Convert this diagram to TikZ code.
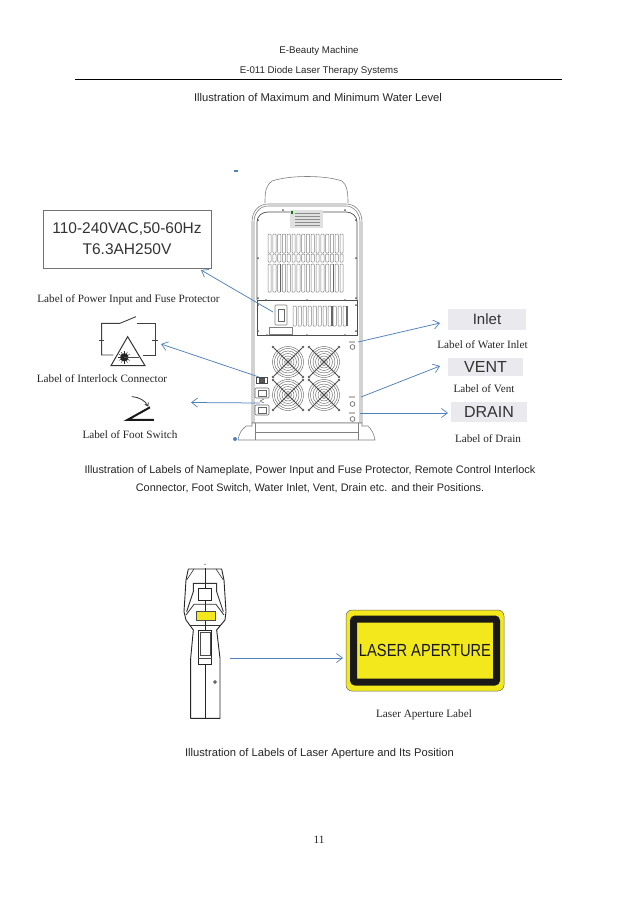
\documentclass[tikz,border=0pt]{standalone}
\usepackage{graphicx}
\usepackage{fontspec}
\setmainfont{Liberation Serif}
\newfontfamily\arialf{Liberation Sans}
\usetikzlibrary{arrows.meta}
\definecolor{arrowblue}{HTML}{4F81BD}
\definecolor{panelgrey}{HTML}{808080}
\definecolor{labelbg}{HTML}{E9E9EE}
\definecolor{signyellow}{HTML}{F2E81C}
\tikzset{
  headtxt/.style={font=\arialf\fontsize{9.7}{11}\selectfont,text=black!85,inner sep=0pt,anchor=center},
  bodytxt/.style={font=\arialf\fontsize{11.2}{17}\selectfont,text=black!85,inner sep=0pt,anchor=center,align=center},
  captxt/.style={font=\arialf\fontsize{10.9}{17.5}\selectfont,text=black!85,inner sep=0pt,anchor=center,align=center},
  lbltxt/.style={font=\fontsize{11.2}{13}\selectfont,text=black!85,inner sep=0pt,anchor=center},
  callout/.style={draw=arrowblue,line width=0.75pt,-{Straight Barb[length=6pt,width=9pt,line width=0.7pt]}},
  mach/.style={draw=panelgrey,line width=0.6pt},
  slot/.style={draw=panelgrey,line width=0.5pt,rounded corners=0.8pt,fill=white},
  boltdot/.style={fill=black!65,draw=none},
  fanwire/.style={draw=black!60,line width=0.45pt},
  iconline/.style={draw=black!75,line width=0.9pt},
}
\newcommand{\fanunit}[2]{%
  \foreach \r in {3.5,6,8.5,11,13.5,15.5}{\draw[fanwire] (#1,#2) circle[radius=\r pt];}
  \draw[fanwire,fill=white] (#1,#2) circle[radius=2.2pt];
  \draw[draw=black!70,line width=1pt] (#1-14,#2-14) -- (#1+14,#2+14) (#1-14,#2+14) -- (#1+14,#2-14);
  \foreach \a/\b in {-15/-15,15/-15,-15/15,15/15}{\fill[boltdot] (#1+\a,#2+\b) circle[radius=1.3pt];}
}
\begin{document}
\begin{tikzpicture}[x=1pt,y=-1pt]
\useasboundingbox[fill=white] (0,0) rectangle (638,903);

% header
\node[headtxt] (h1) at (319,51) {E-Beauty Machine};
\node[headtxt] (h2) at (319,71) {E-011 Diode Laser Therapy Systems};
\draw[black,line width=0.7pt] (75,79) -- (562,79);
\node[bodytxt] (t1) at (318,97) {Illustration of Maximum and Minimum Water Level};

% machine
\fill[arrowblue] (234,170) rectangle (238,172);
\fill[arrowblue] (235,439) circle[radius=2pt];
\draw[mach,fill=white] (265,203) .. controls (265,190) and (266,186) .. (272,181) .. controls (290,175) and (325,175) .. (342,181) .. controls (347,185) and (348,192) .. (348,203);
\draw[mach,fill=white] (252,423) -- (252,222) .. controls (252,212) and (258,204) .. (268,204) -- (346,204) .. controls (356,204) and (362,212) .. (362,222) -- (362,423) -- cycle;
\draw[mach] (254,423) -- (254,222) .. controls (254,214) and (259,206) .. (268,206) -- (346,206) .. controls (354,206) and (360,214) .. (360,222) -- (360,423);
\draw[draw=black!70,line width=0.7pt] (257,300) -- (257,222) .. controls (257,216) and (262,212) .. (268,212) -- (346,212) .. controls (352,212) and (357,216) .. (357,222) -- (357,300);
\draw[draw=black!70,line width=0.7pt] (257,300) -- (357,300);
\draw[draw=black!70,line width=0.7pt] (257,300) rectangle (357,335);
% nameplate
\fill[black!12] (290,210) rectangle (323,228);
\fill[green!50!black] (291,211) rectangle (293,214);
\foreach \y in {213,216,219,222,225}{\draw[black!45,line width=0.3pt] (295,\y) -- (320,\y);}
% upper slots
\foreach \i in {0,...,15}{
  \draw[slot] ({268+\i*4.8},234) rectangle ++(3.2,19);
  \draw[slot] ({268+\i*4.8},254) rectangle ++(3.2,8);
  \draw[slot] ({268+\i*4.8},264) rectangle ++(3.2,28);
}
\fill[black!60] (279.5,264) rectangle (280.8,292);
\fill[black!60] (332.5,264) rectangle (333.8,292);
% panel bolts
\foreach \p in {(258,220),(258,258),(258,298),(356,220),(356,258),(356,298),(283,210),(345,210),(266,300),(307,300),(345,300),(258,305),(258,331),(356,305),(356,331),(267,335),(307,335),(345,335)}{\fill[boltdot] \p circle[radius=1pt];}
% lower panel
\draw[slot,line width=0.6pt] (275,305) rectangle (287,325);
\draw[black!60,line width=0.5pt] (278,309) rectangle (284,321);
\draw[panelgrey,line width=0.4pt] (269,327) rectangle (292,334);
\foreach \i in {0,...,10}{\draw[slot] ({293+\i*5},306) rectangle ++(3.4,20);}
\fill[black!60] (331,306) rectangle (333,326);
\fill[black!60] (346,306) rectangle (348,326);
% fans
\fanunit{288}{362}
\fanunit{324}{362}
\fanunit{288}{395}
\fanunit{324}{395}
% sockets
\draw[draw=black!70,line width=0.6pt] (256,377) rectangle (267,383);
\draw[draw=black!70,line width=0.5pt,fill=black!65] (259,378) rectangle (264,382);
\foreach \y in {388,405}{
  \draw[draw=black!60,line width=0.6pt,rounded corners=1pt] (255,\y) rectangle (269,\y+10);
  \draw[draw=black!60,line width=0.5pt] (258,\y+2) rectangle (266,\y+8);
}
\draw[draw=black!60,line width=0.5pt] (260,401) -- (264,399) (260,401) -- (264,403);
% ports
\foreach \y/\q in {342/346,397/403,413/418}{
  \fill[black!25] (349,\y-1) rectangle (355,\y+1);
  \draw[draw=black!65,line width=0.6pt] (352.5,\q+1) circle[radius=2.4pt];
}
% base
\draw[mach,fill=white] (252,423) -- (362,423) -- (362,426) -- (368,426) .. controls (372,430) and (374,434) .. (375,440) -- (238,440) .. controls (239,434) and (241,430) .. (246,426) -- (252,426) -- cycle;
\draw[mach] (255,423) -- (255,440) (358,423) -- (358,440) (255,432) -- (358,432);

% power label
\node[draw=black!55,line width=0.7pt,fill=white,minimum width=168pt,minimum height=58pt,inner sep=0pt,align=center,text=black!80,font=\arialf\fontsize{15.5}{21}\selectfont] (powerbox) at (127,239) {110-240VAC,50-60Hz\\T6.3AH250V};
\node[lbltxt] (l1) at (128.5,300) {Label of Power Input and Fuse Protector};

% interlock icon
\begin{scope}[shift={(30,200)},x=0.3333pt,y=-0.3333pt]
  \draw[iconline] (250,465) -- (215,465) -- (215,370) -- (270,370) -- (318,350);
  \draw[iconline] (320,370) -- (375,370) -- (375,465) -- (338,465);
  \draw[iconline] (207,420) -- (223,420) (367,420) -- (383,420);
  \draw[draw=black!80,line width=1pt,line join=miter] (293,410) -- (243,497) -- (345,497) -- cycle;
  \fill[black!85] (283,472) circle[radius=4.2pt];
  \foreach \a in {0,30,...,330}{\draw[black!85,line width=0.4pt] (283,472) -- ++(\a:6.2pt);}
  \draw[black!70,line width=0.5pt] (283,472) -- (328,472);
\end{scope}
\node[lbltxt] (l2) at (102,378.5) {Label of Interlock Connector};

% foot switch icon
\begin{scope}[shift={(30,200)},x=0.3333pt,y=-0.3333pt]
  \draw[black!90,line width=2pt] (372,660) -- (292,660) -- (360,622);
  \draw[black!80,line width=0.8pt,-{Straight Barb[length=3pt,width=4pt]}] (305,590) .. controls (330,592) and (345,602) .. (355,620);
\end{scope}
\node[lbltxt] (l3) at (130,435) {Label of Foot Switch};

% right labels
\node[fill=labelbg,minimum width=78pt,minimum height=21pt,inner sep=0pt,text=black!80,font=\arialf\fontsize{15}{16}\selectfont] (inletbox) at (487,319.5) {Inlet};
\node[lbltxt] (l4) at (482.5,344.5) {Label of Water Inlet};
\node[fill=labelbg,minimum width=75pt,minimum height=18pt,inner sep=0pt,text=black!80,font=\arialf\fontsize{16}{16}\selectfont] (ventbox) at (485.5,367) {VENT};
\node[lbltxt] (l5) at (484,389) {Label of Vent};
\node[fill=labelbg,minimum width=76pt,minimum height=20pt,inner sep=0pt,text=black!80,font=\arialf\fontsize{16}{16}\selectfont] (drainbox) at (489,412) {DRAIN};
\node[lbltxt] (l6) at (488,438.5) {Label of Drain};

% callouts
\coordinate (sPower) at (273,312); \coordinate (tPower) at (201,270);
\coordinate (sInter) at (259,377); \coordinate (tInter) at (161,344);
\coordinate (sFoot) at (260,403);  \coordinate (tFoot) at (191,402.5);
\coordinate (sInlet) at (358,342); \coordinate (tInlet) at (440,323);
\coordinate (sVent) at (361,397);  \coordinate (tVent) at (440,366);
\coordinate (sDrain) at (360,413); \coordinate (tDrain) at (448,413);
\coordinate (sLaser) at (230,658); \coordinate (tLaser) at (343,658);
\foreach \n in {Power,Inter,Foot,Inlet,Vent,Drain,Laser}{\draw[callout] (s\n) -- (t\n);}

% caption
\node[captxt] (t2) at (310,479) {Illustration of Labels of Nameplate, Power Input and Fuse Protector, Remote Control Interlock\\Connector, Foot Switch, Water Inlet, Vent, Drain etc. and their Positions.};

% handpiece
\begin{scope}[shift={(170,555)},x=0.3333pt,y=-0.3333pt]
  \fill[black!60] (105,28) circle[radius=0.7pt];
  \draw[black!85,line width=0.9pt,fill=white,line join=round] (55,42) -- (155,42) -- (162,75) -- (168,170) -- (165,195) -- (140,225) -- (150,310) -- (150,490) -- (62,490) -- (62,310) -- (70,225) -- (48,195) -- (42,170) -- (48,75) -- cycle;
  \draw[black!85,line width=0.6pt] (105,40) -- (105,490);
  \draw[black!80,line width=0.6pt] (50,75) -- (72,42) (160,75) -- (138,42);
  \draw[black!80,line width=0.9pt] (50,170) -- (70,110) -- (70,85) -- (140,85) -- (140,110) -- (160,170);
  \draw[black!85,line width=0.8pt,fill=white] (85,100) rectangle (125,135);
  \draw[black!80,line width=0.8pt] (48,180) -- (72,148) -- (138,148) -- (162,180);
  \draw[black!80,line width=0.8pt] (60,210) -- (150,210);
  \draw[black!70,line width=0.6pt,fill=signyellow] (78,170) rectangle (135,195);
  \draw[black!85,line width=1pt,fill=white] (85,225) rectangle (125,330);
  \draw[black!70,line width=0.6pt] (90,232) rectangle (120,300);
  \draw[black!70,line width=0.6pt] (85,310) -- (125,310);
  \draw[black!70,line width=0.5pt,fill=black!50] (135,381) circle[radius=1.6pt];
\end{scope}

% laser sign
\node[draw=black!60,line width=0.5pt,fill=signyellow,rounded corners=6pt,minimum width=158pt,minimum height=81pt,inner sep=0pt] (signouter) at (425,650.5) {};
\node[draw=black!90,line width=7pt,fill=signyellow,rounded corners=2pt,minimum width=143pt,minimum height=63pt,inner sep=0pt,font=\arialf\fontsize{17.5}{18}\selectfont,text=black!90] (signinner) at (425,650.5) {\scalebox{0.84}[1]{LASER APERTURE}};
\node[lbltxt] (l7) at (424,714.5) {Laser Aperture Label};

\node[bodytxt] (t3) at (319.5,754) {Illustration of Labels of Laser Aperture and Its Position};
\node[lbltxt] (pg) at (319,839.5) {11};
\end{tikzpicture}
\end{document}
